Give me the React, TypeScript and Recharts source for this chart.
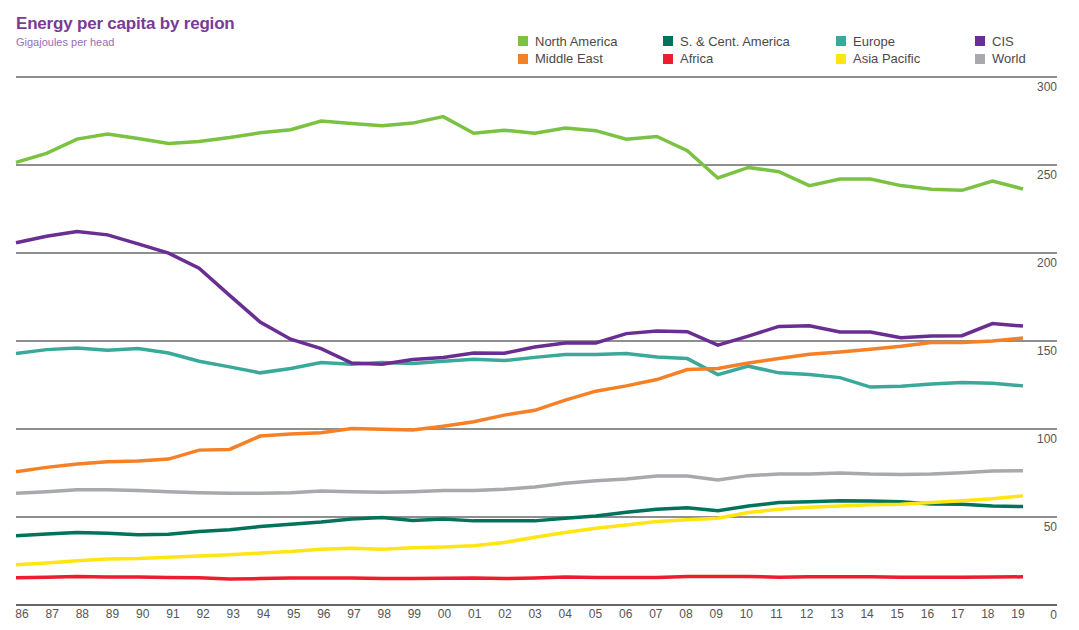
import React from "react";
import { LineChart, Line, XAxis, YAxis, CartesianGrid } from "recharts";

const years = [
  "86", "87", "88", "89", "90", "91", "92", "93", "94", "95", "96", "97",
  "98", "99", "00", "01", "02", "03", "04", "05", "06", "07", "08", "09",
  "10", "11", "12", "13", "14", "15", "16", "17", "18", "19",
];

const northAmerica = [
  251.5, 256.6, 264.7, 267.6, 265.0, 262.2, 263.4, 265.6, 268.3, 270.0, 275.0, 273.6,
  272.3, 273.8, 277.5, 268.0, 269.8, 268.0, 271.0, 269.5, 264.7, 266.2, 258.1, 242.6,
  248.6, 246.2, 238.3, 242.0, 242.0, 238.3, 236.2, 235.6, 240.9, 236.4,
];
const sCentAmerica = [
  39.3, 40.4, 41.2, 40.8, 39.9, 40.2, 41.7, 42.7, 44.6, 45.9, 47.1, 48.8,
  49.7, 48.0, 48.9, 47.8, 47.8, 47.8, 49.3, 50.6, 52.7, 54.4, 55.3, 53.5,
  56.3, 58.2, 58.7, 59.3, 59.1, 58.7, 57.4, 57.2, 56.3, 55.9,
];
const europe = [
  142.9, 145.1, 146.0, 144.7, 145.7, 143.2, 138.5, 135.3, 131.9, 134.4, 137.8, 136.8,
  137.8, 137.2, 138.5, 139.6, 138.9, 140.7, 142.3, 142.3, 142.9, 140.9, 140.0, 130.9,
  135.7, 131.9, 131.0, 129.2, 123.8, 124.3, 125.5, 126.4, 126.0, 124.5,
];
const cis = [
  205.8, 209.5, 212.2, 210.3, 205.2, 199.9, 191.4, 175.9, 160.8, 151.0, 145.7, 137.5,
  136.8, 139.5, 140.6, 143.2, 143.0, 146.6, 148.9, 148.9, 154.2, 155.7, 155.3, 147.6,
  152.8, 158.3, 158.7, 155.1, 155.1, 151.9, 152.8, 153.0, 159.9, 158.5,
];
const middleEast = [
  75.7, 78.2, 80.1, 81.4, 81.8, 82.9, 88.0, 88.4, 96.0, 97.1, 97.9, 100.3,
  99.8, 99.4, 101.6, 104.1, 107.9, 110.6, 116.4, 121.5, 124.5, 128.1, 133.8, 134.4,
  137.5, 140.0, 142.5, 143.8, 145.3, 147.0, 149.1, 149.1, 150.0, 151.7,
];
const africa = [
  15.5, 15.8, 16.2, 15.9, 15.9, 15.6, 15.5, 14.8, 15.0, 15.3, 15.3, 15.3,
  15.1, 15.1, 15.2, 15.3, 15.0, 15.3, 15.9, 15.6, 15.6, 15.6, 16.2, 16.2,
  16.2, 15.8, 16.0, 16.0, 16.0, 15.8, 15.8, 15.8, 15.9, 16.0,
];
const asiaPacific = [
  22.8, 23.8, 25.1, 26.1, 26.4, 27.2, 27.8, 28.5, 29.5, 30.4, 31.7, 32.3,
  31.7, 32.5, 33.0, 33.6, 35.5, 38.5, 41.2, 43.6, 45.5, 47.4, 48.4, 49.3,
  52.5, 54.4, 55.6, 56.3, 56.9, 57.3, 58.2, 59.3, 60.4, 62.0,
];
const world = [
  63.5, 64.4, 65.5, 65.5, 65.0, 64.4, 63.8, 63.5, 63.5, 63.8, 64.8, 64.4,
  64.1, 64.4, 65.0, 65.0, 65.8, 67.0, 69.2, 70.6, 71.6, 73.3, 73.3, 71.0,
  73.5, 74.4, 74.4, 75.0, 74.4, 74.2, 74.4, 75.2, 76.1, 76.3,
];

const yTicks = [0, 50, 100, 150, 200, 250, 300];

const seriesList = [
  { key: "na", name: "North America", color: "#7cc242", values: northAmerica },
  { key: "sca", name: "S. & Cent. America", color: "#00735a", values: sCentAmerica },
  { key: "eu", name: "Europe", color: "#3ba99a", values: europe },
  { key: "cis", name: "CIS", color: "#6a2d91", values: cis },
  { key: "me", name: "Middle East", color: "#f58025", values: middleEast },
  { key: "af", name: "Africa", color: "#ed1c2e", values: africa },
  { key: "ap", name: "Asia Pacific", color: "#ffe512", values: asiaPacific },
  { key: "wo", name: "World", color: "#a7a9ac", values: world },
];

const data = years.map((y, i) => {
  const row: Record<string, string | number> = { year: y };
  seriesList.forEach((s) => {
    row[s.key] = s.values[i];
  });
  return row;
});

// legend is 4 columns x 2 rows, filled column-wise in the original
const legendCols = [
  { x: 518, items: ["na", "me"] },
  { x: 663, items: ["sca", "af"] },
  { x: 836, items: ["eu", "ap"] },
  { x: 975, items: ["cis", "wo"] },
];

const FONT = "'Liberation Sans', Arial, sans-serif";

function YearTick({ x, y, payload, index }: any) {
  // labels drift slightly against the data positions
  const shift = 6 - (11 * index) / (years.length - 1);
  return (
    <text x={x + shift} y={y} dy="0.71em" textAnchor="middle" fontSize={12} fill="#555" fontFamily={FONT}>
      {payload.value}
    </text>
  );
}

function ValueTick({ x, y, payload }: any) {
  // value sits just under its gridline, right-aligned to the gridline end
  return (
    <text x={x} y={y} dy={14} textAnchor="end" fontSize={12} fill="#555" fontFamily={FONT}>
      {payload.value}
    </text>
  );
}

export default function App() {
  return (
    <div style={{ position: "absolute", left: 0, top: 0, width: 1079, height: 630, background: "#fff", fontFamily: FONT }}>
      <div style={{ position: "absolute", left: 16, top: 14, fontSize: 17, fontWeight: 700, color: "#7a3a96", letterSpacing: -0.2, whiteSpace: "nowrap" }}>
        Energy per capita by region
      </div>
      <div style={{ position: "absolute", left: 16, top: 36, fontSize: 11, color: "#9a6cb4", whiteSpace: "nowrap" }}>
        Gigajoules per head
      </div>
      {legendCols.map((col) =>
        col.items.map((k, r) => {
          const s = seriesList.find((d) => d.key === k)!;
          return (
            <div key={k} style={{ position: "absolute", left: col.x, top: 34 + r * 17.5, height: 14, display: "flex", alignItems: "center", whiteSpace: "nowrap" }}>
              <span style={{ width: 10, height: 10, background: s.color, display: "inline-block" }} />
              <span style={{ marginLeft: 7, fontSize: 13, color: "#4a4a4a" }}>{s.name}</span>
            </div>
          );
        })
      )}
      <LineChart width={1079} height={630} data={data} margin={{ top: 77, right: 0, bottom: 0, left: 16 }}>
        <CartesianGrid horizontal vertical={false} stroke="#8f8f8f" strokeWidth={1.8} />
        <XAxis
          dataKey="year"
          height={25}
          interval={0}
          tickLine={false}
          tickSize={0}
          tickMargin={4}
          padding={{ left: 0, right: 34 }}
          axisLine={{ stroke: "#666", strokeWidth: 1.8 }}
          tick={<YearTick />}
        />
        <YAxis
          orientation="right"
          width={22}
          domain={[0, 300]}
          ticks={yTicks}
          interval={0}
          axisLine={false}
          tickLine={false}
          tickSize={0}
          tickMargin={0}
          tick={<ValueTick />}
        />
        {seriesList.map((s) => (
          <Line
            key={s.key}
            type="linear"
            dataKey={s.key}
            name={s.name}
            stroke={s.color}
            strokeWidth={3.5}
            dot={false}
            activeDot={false}
            isAnimationActive={false}
          />
        ))}
      </LineChart>
    </div>
  );
}
